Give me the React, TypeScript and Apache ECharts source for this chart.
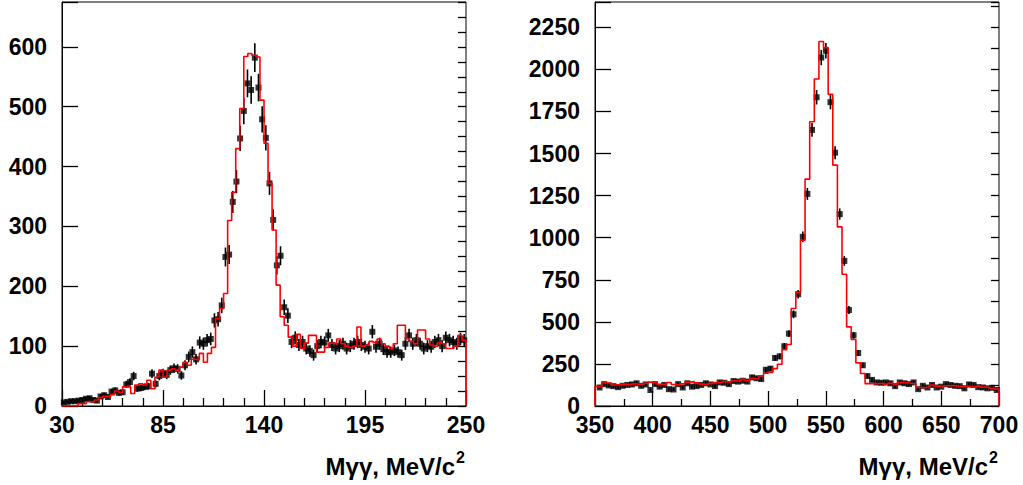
import React, { useEffect, useRef } from "react";
import * as echarts from "echarts";

// ---------- data ----------
// Left panel: measured counts, bins of 2 MeV starting at 30 (centres 31, 33, ... 249)
const leftCounts = [
  6, 7, 8, 8, 9, 10, 12, 13, 10, 9,
  16, 18, 15, 24, 26, 22, 23, 36, 40, 50,
  29, 30, 32, 33, 54, 37, 50, 55, 52, 60,
  63, 62, 51, 68, 82, 90, 78, 106, 104, 110,
  112, 143, 145, 168, 249, 253, 341, 375, 447, 493,
  539, 528, 582, 532, 479, 448, 372, 311, 235, 251,
  165, 151, 107, 114, 102, 107, 96, 92, 85, 100,
  107, 106, 118, 102, 96, 100, 104, 96, 100, 104,
  107, 102, 99, 96, 124, 99, 104, 95, 90, 90,
  93, 90, 85, 104, 118, 104, 110, 104, 96, 100,
  99, 107, 110, 100, 114, 110, 107, 104, 112, 110,
];
// Left panel: simulated histogram (red), bins of 2.2 MeV starting at 30
const leftModel = [
  0, 0, 0, 0, 4, 4, 7, 7, 10, 14,
  16, 16, 19, 25, 23, 32, 32, 21, 35, 37,
  35, 43, 29, 48, 60, 48, 60, 62, 60, 65,
  73, 68, 78, 77, 88, 73, 88, 98, 146, 163,
  188, 310, 357, 430, 497, 584, 589, 586, 583, 511,
  439, 372, 294, 202, 149, 135, 115, 100, 120, 96,
  105, 118, 118, 90, 90, 98, 105, 104, 112, 104,
  100, 98, 100, 132, 100, 102, 108, 106, 112, 104,
  100, 96, 104, 135, 135, 112, 108, 104, 127, 127,
  112, 102, 100, 106, 104, 96, 96, 100, 118, 110,
];
// Right panel: measured counts, bins of 4 MeV (centres 354, 358, ... 698)
const rightCounts = [
  110, 130, 122, 118, 112, 120, 125, 128, 135, 120,
  128, 95, 130, 115, 125, 100, 98, 130, 110, 135,
  115, 118, 125, 135, 128, 118, 140, 138, 130, 148,
  145, 150, 145, 170, 165, 160, 215, 222, 285, 295,
  355, 430, 545, 664, 1005, 1260, 1640, 1834, 2070, 2110,
  1805, 1505, 1140, 862, 570, 420, 315, 242, 178, 155,
  140, 138, 140, 135, 118, 140, 135, 130, 140, 100,
  120, 110, 125, 110, 115, 130, 125, 120, 118, 105,
  128, 125, 112, 110, 105, 108, 95,
];
// Right panel: simulated histogram (red), same 4 MeV bins
const rightModel = [
  115, 138, 135, 125, 128, 130, 128, 132, 130, 128,
  135, 142, 140, 128, 130, 140, 128, 125, 132, 142,
  145, 138, 130, 128, 134, 140, 138, 145, 142, 150,
  148, 158, 150, 165, 160, 180, 195, 200, 222, 248,
  335, 365, 579, 676, 985, 1348, 1689, 1943, 2165, 2129,
  1851, 1431, 1064, 783, 470, 395, 256, 193, 133, 133,
  132, 135, 130, 135, 128, 140, 138, 135, 132, 110,
  108, 112, 125, 118, 115, 120, 122, 118, 115, 118,
  115, 112, 118, 112, 110, 105, 100,
];

const leftRange = [30, 250];
const leftTickStep = 55;
const leftYRange = [0, 675];
const rightRange = [350, 700];
const rightTickStep = 50;
const rightYRange = [0, 2400];
const axisTitle = "Mγγ, MeV/c";
const axisTitleSup = "2";

const LEFT_BIN = 2;
const LEFT_MODEL_BIN = 2.2;
const RIGHT_BIN = 4;
const RIGHT_FIRST_EDGE = 352;

// ---------- derived series ----------
const leftPts = leftCounts.map((v, i) => [leftRange[0] + LEFT_BIN * (i + 0.5), v, Math.sqrt(v)]);
const leftHist: number[][] = [[leftRange[0], 0]];
leftModel.forEach((v, i) => {
  leftHist.push([leftRange[0] + LEFT_MODEL_BIN * i, v], [leftRange[0] + LEFT_MODEL_BIN * (i + 1), v]);
});
leftHist.push([leftRange[1], 0]);

const rightPts = rightCounts.map((v, i) => [RIGHT_FIRST_EDGE + RIGHT_BIN * (i + 0.5), v, Math.sqrt(v)]);
const rightHist: number[][] = [[rightRange[0], 0], [rightRange[0], rightModel[0]]];
rightModel.forEach((v, i) => {
  rightHist.push([RIGHT_FIRST_EDGE + RIGHT_BIN * i, v], [RIGHT_FIRST_EDGE + RIGHT_BIN * (i + 1), v]);
});
rightHist.push([rightRange[1], 0]);

const FONT = '"Liberation Sans", Arial, Helvetica, sans-serif';

const errRender = (params: any, api: any) => {
  const x = api.value(0);
  const y = api.value(1);
  const e = api.value(2);
  const a = api.coord([x, y - e]);
  const b = api.coord([x, y + e]);
  return {
    type: "line",
    shape: { x1: a[0], y1: a[1], x2: b[0], y2: b[1] },
    style: { stroke: "#000", lineWidth: 1.6 },
  };
};

const labelStyle = {
  color: "#000",
  fontFamily: FONT,
  fontWeight: "bold" as const,
  fontSize: 23,
};

function xAxisCfg(gridIndex: number, range: number[], step: number, minorSplit: number, majorLen: number, minorLen: number) {
  return {
    type: "value",
    gridIndex,
    min: range[0],
    max: range[1],
    interval: step,
    axisLine: { show: true, onZero: false, lineStyle: { color: "#000", width: 1 } },
    axisTick: { show: true, inside: true, length: majorLen, lineStyle: { color: "#000", width: 1.3 } },
    minorTick: { show: true, splitNumber: minorSplit, length: minorLen, lineStyle: { color: "#000", width: 1.3 } },
    splitLine: { show: false },
    minorSplitLine: { show: false },
    axisLabel: { ...labelStyle, margin: 7, showMinLabel: true, showMaxLabel: true },
  };
}

function yAxisCfg(gridIndex: number, range: number[], step: number, tickLen: number, labels: boolean, labelStep: number) {
  return {
    type: "value",
    gridIndex,
    min: range[0],
    max: range[1],
    interval: step,
    axisLine: { show: labels, onZero: false, lineStyle: { color: "#000", width: 1 } },
    axisTick: { show: true, inside: true, length: tickLen, lineStyle: { color: "#000", width: 1.3 } },
    splitLine: { show: false },
    axisLabel: labels
      ? {
          ...labelStyle,
          margin: 15,
          formatter: (v: number) => (v % labelStep === 0 ? String(v) : ""),
        }
      : { show: false },
  };
}

export default function App() {
  const ref = useRef<HTMLDivElement>(null);

  useEffect(() => {
    document.body.style.margin = "0";
    if (!ref.current) return;
    const chart = echarts.init(ref.current, null, { renderer: "svg" });
    const titleFont = `bold 24px ${FONT}`;
    const supFont = `bold 16px ${FONT}`;
    chart.setOption({
      animation: false,
      backgroundColor: "#fff",
      grid: [
        { left: 62, top: 2, width: 404, height: 404, show: true, borderColor: "#000", borderWidth: 1, backgroundColor: "transparent", containLabel: false, outerBoundsMode: "none" },
        { left: 595, top: 2, width: 404, height: 404, show: true, borderColor: "#000", borderWidth: 1, backgroundColor: "transparent", containLabel: false, outerBoundsMode: "none" },
      ],
      xAxis: [
        xAxisCfg(0, leftRange, leftTickStep, 5, 16, 8),
        xAxisCfg(1, rightRange, rightTickStep, 2, 15, 7),
      ],
      yAxis: [
        yAxisCfg(0, leftYRange, 100, 16, true, 100),
        yAxisCfg(0, leftYRange, 25, 8, false, 100),
        yAxisCfg(1, rightYRange, 250, 16, true, 250),
        yAxisCfg(1, rightYRange, 125, 8, false, 250),
      ],
      graphic: [
        { type: "text", x: 455, y: 466, style: { text: axisTitle, font: titleFont, fill: "#000", align: "right", verticalAlign: "middle" } },
        { type: "text", x: 456, y: 457, style: { text: axisTitleSup, font: supFont, fill: "#000", align: "left", verticalAlign: "middle" } },
        { type: "text", x: 988, y: 466, style: { text: axisTitle, font: titleFont, fill: "#000", align: "right", verticalAlign: "middle" } },
        { type: "text", x: 989, y: 457, style: { text: axisTitleSup, font: supFont, fill: "#000", align: "left", verticalAlign: "middle" } },
      ],
      series: [
        {
          type: "custom",
          xAxisIndex: 0,
          yAxisIndex: 0,
          renderItem: errRender,
          encode: { x: 0, y: 1 },
          data: leftPts,
          z: 2,
          silent: true,
        },
        {
          type: "scatter",
          xAxisIndex: 0,
          yAxisIndex: 0,
          symbol: "rect",
          symbolSize: 6,
          itemStyle: { color: "#000" },
          data: leftPts.map((p) => [p[0], p[1]]),
          z: 3,
          silent: true,
        },
        {
          type: "line",
          xAxisIndex: 0,
          yAxisIndex: 0,
          data: leftHist,
          showSymbol: false,
          symbol: "none",
          lineStyle: { color: "#ff0000", width: 1.6 },
          z: 4,
          silent: true,
        },
        {
          type: "custom",
          xAxisIndex: 1,
          yAxisIndex: 2,
          renderItem: errRender,
          encode: { x: 0, y: 1 },
          data: rightPts,
          z: 2,
          silent: true,
        },
        {
          type: "scatter",
          xAxisIndex: 1,
          yAxisIndex: 2,
          symbol: "rect",
          symbolSize: 6,
          itemStyle: { color: "#000" },
          data: rightPts.map((p) => [p[0], p[1]]),
          z: 3,
          silent: true,
        },
        {
          type: "line",
          xAxisIndex: 1,
          yAxisIndex: 2,
          data: rightHist,
          showSymbol: false,
          symbol: "none",
          lineStyle: { color: "#ff0000", width: 1.6 },
          z: 4,
          silent: true,
        },
      ],
    });
    return () => chart.dispose();
  }, []);

  return <div ref={ref} style={{ width: 1023, height: 485 }} />;
}
